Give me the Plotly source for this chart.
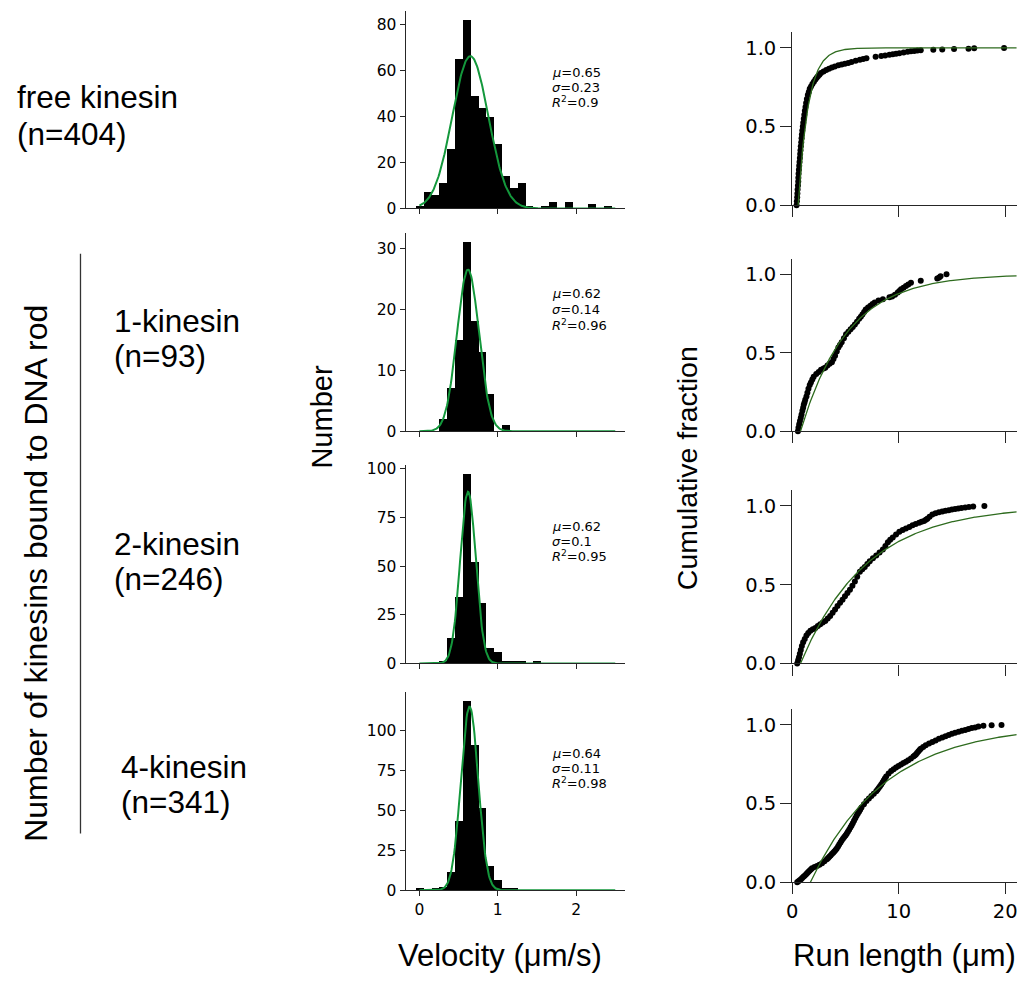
import numpy as np
import plotly.graph_objects as go

# ---------------- data ----------------
vel_centers = [0.0, 0.1, 0.2, 0.3, 0.4, 0.5, 0.6, 0.7, 0.8, 0.9, 1.0, 1.1, 1.2,
               1.3, 1.4, 1.5, 1.6, 1.7, 1.8, 1.9, 2.0, 2.1, 2.2, 2.3, 2.4]
counts_free = [1, 7, 6, 11, 26, 65, 82, 49, 44, 40, 28, 14, 9, 11, 1, 0, 1, 3, 0, 3, 0, 0, 2, 0, 1]
counts_k1 = [0, 0, 0, 2, 7, 15, 31, 18, 13, 6, 0, 1, 0, 0, 0, 0, 0, 0, 0, 0, 0, 0, 0, 0, 0]
counts_k2 = [0, 0, 0, 1, 13, 34, 97, 52, 31, 8, 6, 1, 1, 1, 0, 1, 0, 0, 0, 0, 0, 0, 0, 0, 0]
counts_k4 = [1, 0, 1, 2, 11, 43, 118, 91, 51, 15, 6, 1, 1, 0, 0, 0, 0, 0, 0, 0, 0, 0, 0, 0, 0]

gauss_mu = [0.65, 0.62, 0.62, 0.64]
gauss_sigma = [0.23, 0.14, 0.1, 0.11]
gauss_amp = [66.4, 26.6, 88.2, 115.0]
gauss_r2 = [0.9, 0.96, 0.95, 0.98]

hist_yticks = [[0, 20, 40, 60, 80], [0, 10, 20, 30], [0, 25, 50, 75, 100], [0, 25, 50, 75, 100]]

row_names = ["free kinesin", "1-kinesin", "2-kinesin", "4-kinesin"]
row_n = [404, 93, 246, 341]

run_free_x = [0.40, 0.43, 0.46, 0.48, 0.50, 0.53, 0.56, 0.57, 0.59, 0.62, 0.65, 0.68, 0.71, 0.74, 0.77,
              0.80, 0.84, 0.87, 0.90, 0.94, 0.99, 1.03, 1.08, 1.13, 1.18, 1.24, 1.30, 1.37, 1.46, 1.55,
              1.64, 1.76, 1.89, 2.03, 2.17, 2.29, 2.41, 2.55, 2.69, 2.94, 3.19, 3.45, 3.72, 4.0, 4.33,
              4.64, 4.95, 5.26, 5.57, 5.96, 6.35, 6.66, 6.97, 7.83, 8.36, 8.73, 9.13, 9.44, 9.75, 10.06,
              10.46, 10.84, 11.15, 11.46, 11.76, 12.07, 13.25, 14.09, 15.2, 16.56, 17.09, 19.9]
run_free_y = [0.0, 0.025, 0.05, 0.075, 0.1, 0.125, 0.15, 0.175, 0.2, 0.225, 0.25, 0.275, 0.3, 0.325, 0.35,
              0.375, 0.4, 0.425, 0.45, 0.475, 0.5, 0.525, 0.55, 0.575, 0.6, 0.625, 0.65, 0.675, 0.7, 0.72,
              0.74, 0.755, 0.77, 0.785, 0.80, 0.81, 0.82, 0.83, 0.84, 0.85, 0.86, 0.868, 0.875, 0.882, 0.89,
              0.895, 0.90, 0.905, 0.91, 0.918, 0.925, 0.93, 0.935, 0.944, 0.948, 0.952, 0.956, 0.96, 0.963, 0.967,
              0.971, 0.975, 0.979, 0.981, 0.983, 0.985, 0.988, 0.99, 0.993, 0.995, 0.998, 1.0]

run_k1_x = [0.53, 0.58, 0.65, 0.72, 0.80, 0.87, 0.95, 1.02, 1.08, 1.15, 1.22, 1.33, 1.42, 1.52, 1.64,
            1.75, 1.88, 2.01, 2.25, 2.48, 2.7, 2.94, 3.1, 3.3, 3.5, 3.72, 3.87, 4.02, 4.18, 4.33,
            4.48, 4.64, 4.85, 5.05, 5.27, 5.48, 5.68, 5.88, 6.08, 6.28, 6.44, 6.59, 6.75, 6.9, 7.12,
            7.34, 7.54, 7.74, 8.1, 8.51, 9.13, 9.38, 9.65, 9.91, 10.06, 10.22, 10.45, 10.68, 10.9, 11.15,
            12.07, 13.62, 13.8, 13.93, 14.49]
run_k1_y = [0.0, 0.022, 0.044, 0.065, 0.086, 0.106, 0.13, 0.15, 0.169, 0.183, 0.2, 0.221, 0.245, 0.27, 0.294,
            0.31, 0.33, 0.347, 0.365, 0.378, 0.392, 0.40, 0.405, 0.418, 0.43, 0.44, 0.46, 0.48, 0.508, 0.534,
            0.55, 0.566, 0.592, 0.618, 0.634, 0.649, 0.664, 0.68, 0.698, 0.716, 0.73, 0.743, 0.76, 0.775, 0.788,
            0.8, 0.81, 0.82, 0.832, 0.841, 0.854, 0.858, 0.87, 0.883, 0.894, 0.904, 0.914, 0.925, 0.935, 0.946,
            0.958, 0.973, 0.98, 0.987, 1.0]

run_k2_x = [0.46, 0.55, 0.63, 0.71, 0.8, 0.9, 1.02, 1.17, 1.33, 1.5, 1.7, 1.93, 2.17, 2.4, 2.63,
            2.86, 3.1, 3.33, 3.56, 3.79, 4.02, 4.25, 4.49, 4.72, 4.95, 5.18, 5.42, 5.65, 5.88, 6.1,
            6.35, 6.58, 6.81, 7.05, 7.28, 7.58, 7.89, 8.2, 8.51, 8.75, 8.98, 9.2, 9.44, 9.75, 10.06,
            10.37, 10.68, 11.0, 11.3, 11.6, 11.92, 12.15, 12.38, 12.55, 12.69, 12.9, 13.16, 13.46, 13.78, 14.1,
            14.4, 14.7, 15.0, 15.3, 15.6, 15.9, 16.25, 16.6, 17.0, 18.05]
run_k2_y = [0.0, 0.02, 0.04, 0.062, 0.085, 0.11, 0.135, 0.155, 0.177, 0.193, 0.208, 0.217, 0.225, 0.237, 0.249,
            0.26, 0.27, 0.285, 0.301, 0.322, 0.343, 0.364, 0.385, 0.405, 0.426, 0.447, 0.468, 0.494, 0.52, 0.55,
            0.582, 0.598, 0.613, 0.631, 0.649, 0.668, 0.686, 0.704, 0.723, 0.746, 0.769, 0.785, 0.8, 0.818, 0.836,
            0.847, 0.857, 0.867, 0.877, 0.886, 0.894, 0.899, 0.904, 0.912, 0.919, 0.932, 0.946, 0.953, 0.96, 0.964,
            0.969, 0.973, 0.977, 0.98, 0.983, 0.987, 0.99, 0.993, 0.996, 1.0]

run_k4_x = [0.46, 0.58, 0.7, 0.82, 0.93, 1.05, 1.16, 1.28, 1.39, 1.5, 1.62, 1.74, 1.86, 2.09, 2.32,
            2.55, 2.79, 3.02, 3.25, 3.37, 3.48, 3.6, 3.72, 3.84, 3.95, 4.07, 4.18, 4.3, 4.41, 4.53,
            4.64, 4.76, 4.88, 5.0, 5.11, 5.22, 5.34, 5.46, 5.57, 5.68, 5.8, 5.92, 6.04, 6.15, 6.27,
            6.38, 6.5, 6.73, 6.97, 7.2, 7.43, 7.66, 7.89, 8.0, 8.12, 8.24, 8.36, 8.48, 8.59, 8.7,
            8.82, 9.05, 9.29, 9.52, 9.75, 9.98, 10.22, 10.45, 10.68, 10.9, 11.15, 11.38, 11.5, 11.61, 11.72,
            11.84, 11.96, 12.07, 12.3, 12.54, 12.85, 13.16, 13.47, 13.78, 14.1, 14.4, 14.7, 15.0, 15.3, 15.63,
            15.94, 16.25, 16.56, 16.87, 17.18, 17.49, 17.96, 18.73, 19.66]
run_k4_y = [0.0, 0.006, 0.013, 0.02, 0.027, 0.035, 0.042, 0.05, 0.058, 0.065, 0.073, 0.081, 0.089, 0.097, 0.104,
            0.112, 0.121, 0.133, 0.146, 0.154, 0.162, 0.17, 0.179, 0.187, 0.196, 0.205, 0.214, 0.227, 0.24, 0.253,
            0.266, 0.276, 0.287, 0.297, 0.308, 0.321, 0.334, 0.347, 0.36, 0.375, 0.391, 0.406, 0.422, 0.435, 0.448,
            0.461, 0.474, 0.495, 0.516, 0.531, 0.547, 0.562, 0.578, 0.588, 0.599, 0.61, 0.62, 0.633, 0.646, 0.659,
            0.672, 0.69, 0.707, 0.718, 0.728, 0.738, 0.748, 0.757, 0.765, 0.775, 0.786, 0.798, 0.804, 0.811, 0.82,
            0.83, 0.839, 0.848, 0.858, 0.869, 0.88, 0.89, 0.9, 0.911, 0.919, 0.927, 0.935, 0.942, 0.949, 0.956,
            0.962, 0.967, 0.973, 0.979, 0.983, 0.988, 0.994, 0.996, 0.998]

# exponential CDF fits (offset, decay length)
exp_x0 = [0.55, 0.77, 0.77, 1.7]
exp_len = [0.95, 4.4, 6.2, 7.0]

# ---------------- layout helpers ----------------
W, H = 1024, 985


def fx(p):
    return p / W


def fy(p):
    return 1 - p / H


hist_px_y = [(6.1, 207.0), (232.5, 433.7), (468.3, 670.0), (699.5, 900.7)]
cdf_px_y = [(27.7, 203.7), (258.0, 433.7), (493.7, 670.0), (716.3, 892.7)]

AX = '#262626'
hist_counts = [counts_free, counts_k1, counts_k2, counts_k4]
run_xs = [run_free_x, run_k1_x, run_k2_x, run_k4_x]
run_ys = [run_free_y, run_k1_y, run_k2_y, run_k4_y]

fig = go.Figure()
layout = dict(width=W, height=H, margin=dict(l=0, r=0, t=0, b=0, pad=0),
              paper_bgcolor='white', plot_bgcolor='white', showlegend=False)


def names(k):
    s = '' if k == 1 else str(k)
    return 'xaxis' + s, 'yaxis' + s, 'x' + s, 'y' + s


tick_font_h = dict(family='DejaVu Sans', size=15.5, color='black')
tick_font_c = dict(family='DejaVu Sans', size=19.5, color='black')

for i in range(4):
    # ---------- histogram ----------
    xa, ya, xr, yr = names(i + 1)
    top, bot = hist_px_y[i]
    layout[xa] = dict(domain=[fx(402.3), fx(623.5)], range=[-0.1775, 2.6275], anchor=yr,
                      tickvals=[0, 1, 2], showticklabels=(i == 3), ticks='outside', ticklen=5,
                      tickwidth=1, tickcolor=AX, showline=True, linecolor=AX, linewidth=1,
                      showgrid=False, zeroline=False, tickfont=tick_font_h)
    layout[ya] = dict(domain=[fy(bot), fy(top)], range=[0, max(hist_counts[i]) * 1.05], anchor=xr,
                      tickvals=hist_yticks[i], ticks='outside', ticklen=5, tickwidth=1, tickcolor=AX,
                      showline=True, linecolor=AX, linewidth=1, showgrid=False, zeroline=False,
                      tickfont=tick_font_h)
    fig.add_trace(go.Bar(x=vel_centers, y=hist_counts[i], width=0.1, marker=dict(color='black', line=dict(width=0)),
                         xaxis=xr, yaxis=yr))
    gx = np.linspace(0, 2.5, 300)
    gy = gauss_amp[i] * np.exp(-(gx - gauss_mu[i]) ** 2 / (2 * gauss_sigma[i] ** 2))
    fig.add_trace(go.Scatter(x=gx, y=gy, mode='lines', line=dict(color='#14983c', width=2),
                             xaxis=xr, yaxis=yr))

    # ---------- cumulative run length ----------
    xa, ya, xr, yr = names(i + 5)
    top, bot = cdf_px_y[i]
    layout[xa] = dict(domain=[fx(791.7), fx(1017.7)], range=[0, 21.09], anchor=yr,
                      tickvals=[0, 10, 20], showticklabels=(i == 3), ticks='outside', ticklen=11,
                      tickwidth=1.3, tickcolor=AX, showline=True, linecolor=AX, linewidth=1.3,
                      showgrid=False, zeroline=False, tickfont=tick_font_c)
    layout[ya] = dict(domain=[fy(bot), fy(top)], range=[0, 1.1], anchor=xr,
                      tickvals=[0, 0.5, 1.0], ticktext=['0.0', '0.5', '1.0'], ticks='outside', ticklen=11,
                      tickwidth=1.3, tickcolor=AX, showline=True, linecolor=AX, linewidth=1.3,
                      showgrid=False, zeroline=False, tickfont=tick_font_c)
    fig.add_trace(go.Scatter(x=run_xs[i], y=run_ys[i], mode='markers',
                             marker=dict(color='black', size=6, line=dict(width=0)),
                             cliponaxis=False, xaxis=xr, yaxis=yr))
    ex = np.linspace(exp_x0[i], 21.09, 300)
    ey = 1 - np.exp(-(ex - exp_x0[i]) / exp_len[i])
    fig.add_trace(go.Scatter(x=ex, y=ey, mode='lines', line=dict(color='#2e6b1e', width=1.3),
                             xaxis=xr, yaxis=yr))

annotations = []
# fit parameter annotations
stat_y = [(68.3, 83.6, 99.0), (293.3, 309.7, 325.7), (531.0, 546.0, 560.7), (761.7, 776.7, 791.7)]
for i in range(4):
    lines = ["<i>μ</i>=%s" % gauss_mu[i], "<i>σ</i>=%s" % gauss_sigma[i], "<i>R</i><sup>2</sup>=%s" % gauss_r2[i]]
    for t, yy in zip(lines, stat_y[i]):
        annotations.append(dict(x=fx(548), y=fy(yy), xref='paper', yref='paper', text=t, showarrow=False,
                                xanchor='left', yanchor='middle',
                                font=dict(family='DejaVu Sans', size=13, color='black')))

SANS = 'Liberation Sans, Arial'
# row labels
label_pos = [(9, 94, 131), (107, 322, 357), (107, 548, 584), (114, 775, 811)]
for i in range(4):
    lx, y1, y2 = label_pos[i]
    annotations.append(dict(x=fx(lx), y=fy(y1), xref='paper', yref='paper', text=row_names[i], showarrow=False,
                            xanchor='left', yanchor='middle', font=dict(family=SANS, size=31.5, color='black')))
    annotations.append(dict(x=fx(lx), y=fy(y2), xref='paper', yref='paper', text=f"(n={row_n[i]})",
                            showarrow=False, xanchor='left', yanchor='middle',
                            font=dict(family=SANS, size=31.5, color='black')))

annotations.append(dict(x=fx(30), y=fy(578), xref='paper', yref='paper', text='Number of kinesins bound to DNA rod',
                        showarrow=False, textangle=-90, xanchor='center', yanchor='middle',
                        font=dict(family=SANS, size=32, color='black')))
annotations.append(dict(x=fx(318), y=fy(419), xref='paper', yref='paper', text='Number',
                        showarrow=False, textangle=-90, xanchor='center', yanchor='middle',
                        font=dict(family=SANS, size=29, color='black')))
annotations.append(dict(x=fx(686), y=fy(471), xref='paper', yref='paper', text='Cumulative fraction',
                        showarrow=False, textangle=-90, xanchor='center', yanchor='middle',
                        font=dict(family=SANS, size=28.5, color='black')))
annotations.append(dict(x=fx(497), y=fy(967), xref='paper', yref='paper', text='Velocity (μm/s)',
                        showarrow=False, xanchor='center', yanchor='middle',
                        font=dict(family=SANS, size=31, color='black')))
annotations.append(dict(x=fx(905), y=fy(967), xref='paper', yref='paper', text='Run length (μm)',
                        showarrow=False, xanchor='center', yanchor='middle',
                        font=dict(family=SANS, size=31, color='black')))

layout['annotations'] = annotations
layout['shapes'] = [dict(type='line', xref='paper', yref='paper', x0=fx(75), x1=fx(75), y0=fy(253), y1=fy(843),
                         line=dict(color='#333333', width=1.3))]
layout['bargap'] = 0
fig.update_layout(**layout)
fig.write_html("out.html", config={'displayModeBar': False},
               post_script="document.body.style.margin='0px';document.body.style.overflow='hidden';")
